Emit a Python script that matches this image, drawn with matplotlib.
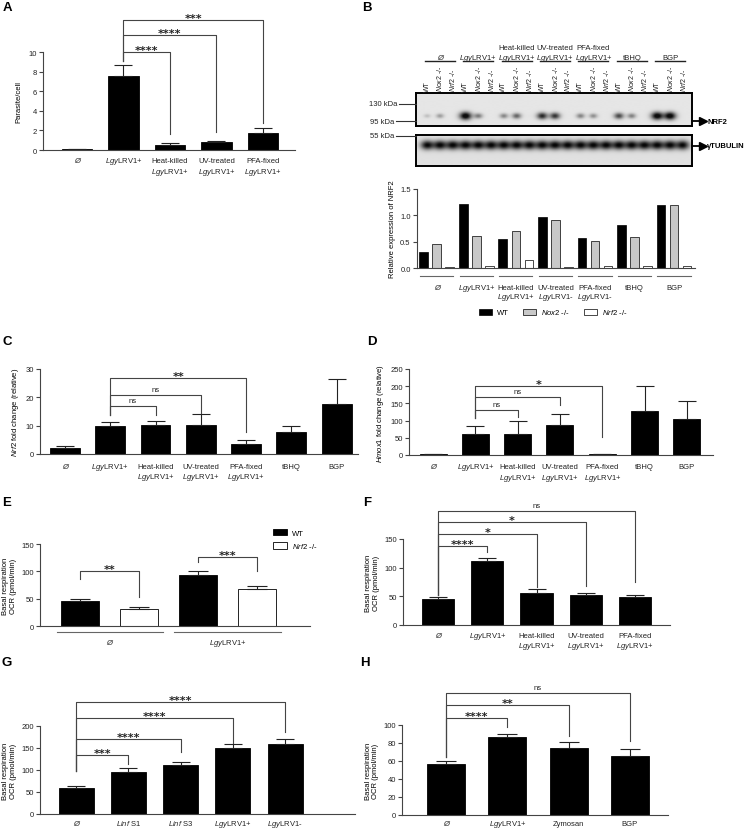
import numpy as np
import matplotlib
matplotlib.use('Agg')
import matplotlib.pyplot as plt
from matplotlib.transforms import Affine2D, blended_transform_factory
from matplotlib.lines import Line2D

plt.rcParams['font.family'] = ['Liberation Sans', 'DejaVu Sans']
plt.rcParams['mathtext.fontset'] = 'custom'
plt.rcParams['mathtext.rm'] = 'Liberation Sans'
plt.rcParams['mathtext.it'] = 'Liberation Sans:italic'
plt.rcParams['mathtext.bf'] = 'Liberation Sans:bold'
plt.rcParams['font.size'] = 5.5

LGY = r'$\it{Lgy}$LRV1+'
LGYM = r'$\it{Lgy}$LRV1-'

# ---------------- data ----------------
# A
a_labels = ['Ø', LGY, 'Heat-killed\n' + LGY, 'UV-treated\n' + LGY, 'PFA-fixed\n' + LGY]
a_mean = [0.1, 7.6, 0.55, 0.8, 1.75]
a_err = [0.05, 1.1, 0.15, 0.15, 0.45]
a_sig = ['****', '****', '***']

# B
b_blot_groups = ['Ø', LGY, 'Heat-killed\n' + LGY, 'UV-treated\n' + LGY,
                 'PFA-fixed\n' + LGY, 'tBHQ', 'BGP']
b_lanes = ['WT', r'$\it{Nox2}$ -/-', r'$\it{Nrf2}$ -/-']
b_groups = ['Ø', LGY, 'Heat-killed\n' + LGY, 'UV-treated\n' + LGYM,
            'PFA-fixed\n' + LGYM, 'tBHQ', 'BGP']
b_wt = [0.31, 1.21, 0.56, 0.96, 0.57, 0.82, 1.19]
b_nox2 = [0.46, 0.60, 0.70, 0.91, 0.52, 0.58, 1.19]
b_nrf2 = [0.01, 0.03, 0.16, 0.01, 0.03, 0.04, 0.03]
b_tubulin = [1.0] * 21

# C
c_labels = ['Ø', LGY, 'Heat-killed\n' + LGY, 'UV-treated\n' + LGY,
            'PFA-fixed\n' + LGY, 'tBHQ', 'BGP']
c_mean = [2.0, 9.8, 10.3, 10.1, 3.5, 7.9, 17.8]
c_err = [0.7, 1.4, 1.4, 3.9, 1.3, 2.0, 8.5]
c_sig = ['ns', 'ns', '**']

# D
d_mean = [2.0, 62, 61, 87, 2.0, 128, 105]
d_err = [1.0, 23, 39, 32, 2.0, 72, 52]
d_sig = ['ns', 'ns', '*']

# E
e_groups = ['Ø', LGY]
e_wt = [45, 94]
e_nrf2 = [32, 68]
e_wt_err = [5, 6]
e_nrf2_err = [3, 5]
e_sig = ['**', '***']

# F
f_labels = ['Ø', LGY, 'Heat-killed\n' + LGY, 'UV-treated\n' + LGY, 'PFA-fixed\n' + LGY]
f_mean = [45, 112, 56, 52, 48]
f_err = [3, 5, 6, 4, 4]
f_sig = ['****', '*', '*', 'ns']

# G
g_labels = ['Ø', r'$\it{Linf}$ S1', r'$\it{Linf}$ S3', LGY, LGYM]
g_mean = [58, 95, 111, 149, 159]
g_err = [5, 9, 8, 9, 11]
g_sig = ['***', '****', '****', '****']

# H
h_labels = ['Ø', LGY, 'Zymosan', 'BGP']
h_mean = [57, 86.5, 74.5, 65.5]
h_err = [2.5, 3.5, 7, 7.5]
h_sig = ['****', '**', 'ns']

# ---------------- layout ----------------
W, H = 749, 829
fig = plt.figure(figsize=(W / 100, H / 100), dpi=100)
pix = Affine2D().scale(1 / W, -1 / H).translate(0, 1) + fig.transFigure
LC = '#444444'


def axes_px(x0, x1, ytop, ybot):
    return fig.add_axes([x0 / W, 1 - ybot / H, (x1 - x0) / W, (ybot - ytop) / H])


def style(ax, top, step, fmt='{:g}'):
    ax.set_ylim(0, top)
    ticks = np.arange(0, top + step / 2, step)
    ax.set_yticks(ticks, [fmt.format(t) for t in ticks])
    ax.set_xticks([])
    for s in ['top', 'right']:
        ax.spines[s].set_visible(False)
    for s in ['left', 'bottom']:
        ax.spines[s].set_color(LC)
        ax.spines[s].set_linewidth(0.8)
    ax.tick_params(axis='y', length=3, width=0.8, color=LC, pad=1.5, labelsize=5.5, labelcolor='#222')
    ax.patch.set_alpha(0)


def xlabels(ax, labels, base, step=10.5, xs=None):
    # one text per line, all aligned on their baselines
    tr = blended_transform_factory(ax.transData, pix)
    xs = range(len(labels)) if xs is None else xs
    for x, lab in zip(xs, labels):
        for k, line in enumerate(lab.split('\n')):
            ax.text(x, base + k * step, line, transform=tr, ha='center', va='baseline',
                    fontsize=5.5, color='#222', clip_on=False,
                    style='italic' if line == 'Ø' else 'normal')


def bracket(ax, x1, x2, y, y1, y2, label):
    ax.plot([x1, x1, x2, x2], [y1, y, y, y2], color=LC, lw=0.8, clip_on=False)
    if label == 'ns':
        ax.annotate(label, ((x1 + x2) / 2, y), xytext=(0, 1.5), textcoords='offset points',
                    ha='center', va='bottom', fontsize=5.5, color='#222', annotation_clip=False)
    else:
        ax.annotate(label, ((x1 + x2) / 2, y), xytext=(0, -0.8), textcoords='offset points',
                    ha='center', va='baseline', fontsize=8, fontweight='bold', color='#222',
                    family='DejaVu Sans', annotation_clip=False)


def bars(ax, mean, err, width, cap, xlim):
    x = np.arange(len(mean))
    ax.bar(x, mean, width=width, color='black', edgecolor='black', lw=0.6)
    ax.errorbar(x, mean, yerr=[np.zeros(len(mean)), err], fmt='none', ecolor='#222',
                elinewidth=0.8, capsize=cap, capthick=0.8)
    ax.set_xlim(*xlim)


# ---- A
axA = axes_px(43, 295, 53, 151)
bars(axA, a_mean, a_err, 0.65, 6.5, (-0.73, 4.69))
style(axA, 10, 2)
xlabels(axA, a_labels, 163, 11.5)
axA.set_ylabel('Parasite/cell', labelpad=4)
for (i, j, y, yl, yr), s in zip([(1, 2, 10.0, 9.1, 1.6), (1, 3, 11.7, 9.1, 1.8), (1, 4, 13.3, 9.1, 2.8)], a_sig):
    bracket(axA, i, j, y, yl, yr, s)

# ---- B blot
lanes_x = 427 + 12.8 * np.arange(21)
lvl = np.column_stack([b_wt, b_nox2, b_nrf2]).ravel()


def blot(y0, y1, yc, levels, base, sxw, syw):
    ax = axes_px(416, 692, y0, y1)
    X, Y = np.meshgrid(np.linspace(416, 692, 553), np.linspace(y0, y1, 80))
    dark = np.zeros_like(X)
    for lx, d in zip(lanes_x, levels):
        dd = min(d, 1.2)
        dark += d * np.exp(-((X - lx) / (sxw[0] + sxw[1] * dd)) ** 2 - ((Y - yc) / (syw[0] + syw[1] * dd)) ** 2)
    img = base - 0.85 * np.clip(dark, 0, 1)
    ax.imshow(img, cmap='gray', vmin=0, vmax=1, extent=(416, 692, y1, y0), aspect='auto',
              interpolation='bilinear')
    ax.set_xlim(416, 692)
    ax.set_ylim(y1, y0)
    ax.set_xticks([])
    ax.set_yticks([])
    for s in ax.spines.values():
        s.set_linewidth(1.4)
    return ax


nrf2_dark = np.clip((lvl - 0.15) * 1.1, 0, None)
blot(94, 127, 117, nrf2_dark, 0.9, (3.0, 2.5), (1.6, 2.0))
blot(136, 167, 146, np.array(b_tubulin), 0.88, (6.5, 0.0), (4.6, 0.0))

for txt, x0, y in [('130 kDa', 399, 105), ('95 kDa', 396, 122), ('55 kDa', 396, 137)]:
    fig.text(x0 - 2, y, txt, transform=pix, ha='right', va='center', fontsize=5.5, color='#222')
    fig.add_artist(Line2D([x0, 416], [y, y], transform=pix, color='#333', lw=0.8))
for txt, y in [('NRF2', 122), ('γTUBULIN', 147)]:
    fig.add_artist(Line2D([692, 702], [y, y], transform=pix, color='black', lw=1.3))
    fig.add_artist(Line2D([703], [y], transform=pix, marker='>', color='black', ms=5.5, lw=0))
    fig.text(707, y, txt, transform=pix, ha='left', va='center', fontsize=5.5, fontweight='bold')

for k, lx in enumerate(lanes_x):
    fig.text(lx, 92, b_lanes[k % 3], transform=pix, rotation=90, ha='center', va='bottom',
             fontsize=5, color='#222')
for g, lab in enumerate(b_blot_groups):
    cx = lanes_x[3 * g + 1]
    for k, line in enumerate(reversed(lab.split('\n'))):
        fig.text(cx, 59.5 - 9.5 * k, line, transform=pix, ha='center', va='baseline', fontsize=5.5,
                 color='#222', style='italic' if line == 'Ø' else 'normal')
    fig.add_artist(Line2D([cx - 15, cx + 15], [62, 62], transform=pix, color='#222', lw=1.0))

# ---- B bars
axB = axes_px(417, 695, 190, 269)
xg = np.arange(len(b_groups))
axB.bar(xg - 0.33, b_wt, 0.22, color='black', edgecolor='black', lw=0.5, label='WT')
axB.bar(xg, b_nox2, 0.22, color='#c8c8c8', edgecolor='black', lw=0.5, label=b_lanes[1])
axB.bar(xg + 0.33, b_nrf2, 0.22, color='white', edgecolor='black', lw=0.5, label=b_lanes[2])
axB.set_xlim(-0.5, 6.53)
style(axB, 1.5, 0.5, '{:.1f}')
xlabels(axB, b_groups, 290, 9.5)
axB.set_ylabel('Relative expression of NRF2', labelpad=3)
bt = blended_transform_factory(axB.transData, pix)
for g in xg:
    axB.plot([g - 0.42, g + 0.42], [277, 277], transform=bt, color='#666', lw=0.8, clip_on=False)
fig.legend(*axB.get_legend_handles_labels(), loc='center', bbox_to_anchor=(553 / W, 1 - 313 / H),
           ncol=3, frameon=False, fontsize=5.5, handlelength=1.8, handleheight=0.9,
           columnspacing=1.8, handletextpad=0.6)

# ---- C
axC = axes_px(40, 358, 370, 455)
bars(axC, c_mean, c_err, 0.66, 6.5, (-0.55, 6.47))
style(axC, 30, 10)
xlabels(axC, c_labels, 469, 10.5)
axC.set_ylabel(r'$\it{Nrf2}$ fold change (relative)', labelpad=3)
for (i, j, y, yl, yr), s in zip([(1, 2, 16.9, 13.8, 13.8), (1, 3, 20.8, 13.8, 14.5), (1, 4, 26.8, 13.8, 7.8)], c_sig):
    bracket(axC, i, j, y, yl, yr, s)

# ---- D
axD = axes_px(409, 713, 370, 456)
bars(axD, d_mean, d_err, 0.64, 6.5, (-0.57, 6.62))
style(axD, 250, 50)
xlabels(axD, c_labels, 469.5, 10.5)
axD.set_ylabel(r'$\it{Hmox1}$ fold change (relative)', labelpad=3)
for (i, j, y, yl, yr), s in zip([(1, 2, 131, 107, 110), (1, 3, 169, 107, 145), (1, 4, 200, 107, 52)], d_sig):
    bracket(axD, i, j, y, yl, yr, s)

# ---- E
axE = axes_px(40, 310, 545, 627)
xe = np.arange(len(e_groups)) * 2
axE.bar(xe, e_wt, 0.64, color='black', edgecolor='black', lw=0.6, label='WT')
axE.bar(xe + 1, e_nrf2, 0.64, color='white', edgecolor='black', lw=0.6, label=b_lanes[2])
axE.errorbar(xe, e_wt, yerr=[np.zeros(2), e_wt_err], fmt='none', ecolor='#222', elinewidth=0.8,
             capsize=7, capthick=0.8)
axE.errorbar(xe + 1, e_nrf2, yerr=[np.zeros(2), e_nrf2_err], fmt='none', ecolor='#222',
             elinewidth=0.8, capsize=7, capthick=0.8)
axE.set_xlim(-0.68, 3.9)
style(axE, 150, 50)
axE.set_ylabel('Basal respiration\nOCR (pmol/min)', labelpad=3, linespacing=1.1)
et = blended_transform_factory(axE.transData, pix)
for g in xe + 0.5:
    axE.plot([g - 0.9, g + 0.9], [633, 633], transform=et, color='#666', lw=0.8, clip_on=False)
xlabels(axE, e_groups, 645, xs=xe + 0.5)
for (i, j, y, yl, yr), s in zip([(0, 1, 100, 86, 53), (2, 3, 126, 117, 100)], e_sig):
    bracket(axE, i, j, y, yl, yr, s)
fig.legend(*axE.get_legend_handles_labels(), loc='upper left', bbox_to_anchor=(266 / W, 1 - 523 / H),
           frameon=False, fontsize=5.5, handlelength=1.8, handleheight=0.9, labelspacing=0.6,
           handletextpad=0.7)

# ---- F
axF = axes_px(403, 670, 540, 626)
bars(axF, f_mean, f_err, 0.65, 6.5, (-0.71, 4.71))
style(axF, 150, 50)
xlabels(axF, f_labels, 638.5, 10)
axF.set_ylabel('Basal respiration\nOCR (pmol/min)', labelpad=3, linespacing=1.1)
for (i, j, y, yl, yr), s in zip([(0, 1, 138, 52, 127), (0, 2, 159, 52, 66), (0, 3, 180, 52, 68),
                                 (0, 4, 199, 52, 75)], f_sig):
    bracket(axF, i, j, y, yl, yr, s)

# ---- G
axG = axes_px(40, 355, 727, 815)
bars(axG, g_mean, g_err, 0.67, 6.5, (-0.69, 5.34))
style(axG, 200, 50)
xlabels(axG, g_labels, 826)
axG.set_ylabel('Basal respiration\nOCR (pmol/min)', labelpad=3, linespacing=1.1)
for (i, j, y, yl, yr), s in zip([(0, 1, 134, 98, 114), (0, 2, 170, 98, 141), (0, 3, 218, 98, 161),
                                 (0, 4, 255, 98, 186)], g_sig):
    bracket(axG, i, j, y, yl, yr, s)

# ---- H
axH = axes_px(402, 668, 726, 816)
bars(axH, h_mean, h_err, 0.62, 7, (-0.72, 3.62))
style(axH, 100, 20)
xlabels(axH, h_labels, 826)
axH.set_ylabel('Basal respiration\nOCR (pmol/min)', labelpad=3, linespacing=1.1)
for (i, j, y, yl, yr), s in zip([(0, 1, 108, 64, 98), (0, 2, 122, 64, 88), (0, 3, 135.5, 64, 82)], h_sig):
    bracket(axH, i, j, y, yl, yr, s)

# panel letters
for L, x, y in [('A', 7, 8), ('B', 367, 8), ('C', 7, 342), ('D', 372, 342),
                ('E', 7, 503), ('F', 367, 503), ('G', 7, 663), ('H', 365, 663)]:
    fig.text(x, y, L, transform=pix, ha='center', va='center', fontsize=9.5, fontweight='bold')

fig.savefig('out.png', dpi=100)
